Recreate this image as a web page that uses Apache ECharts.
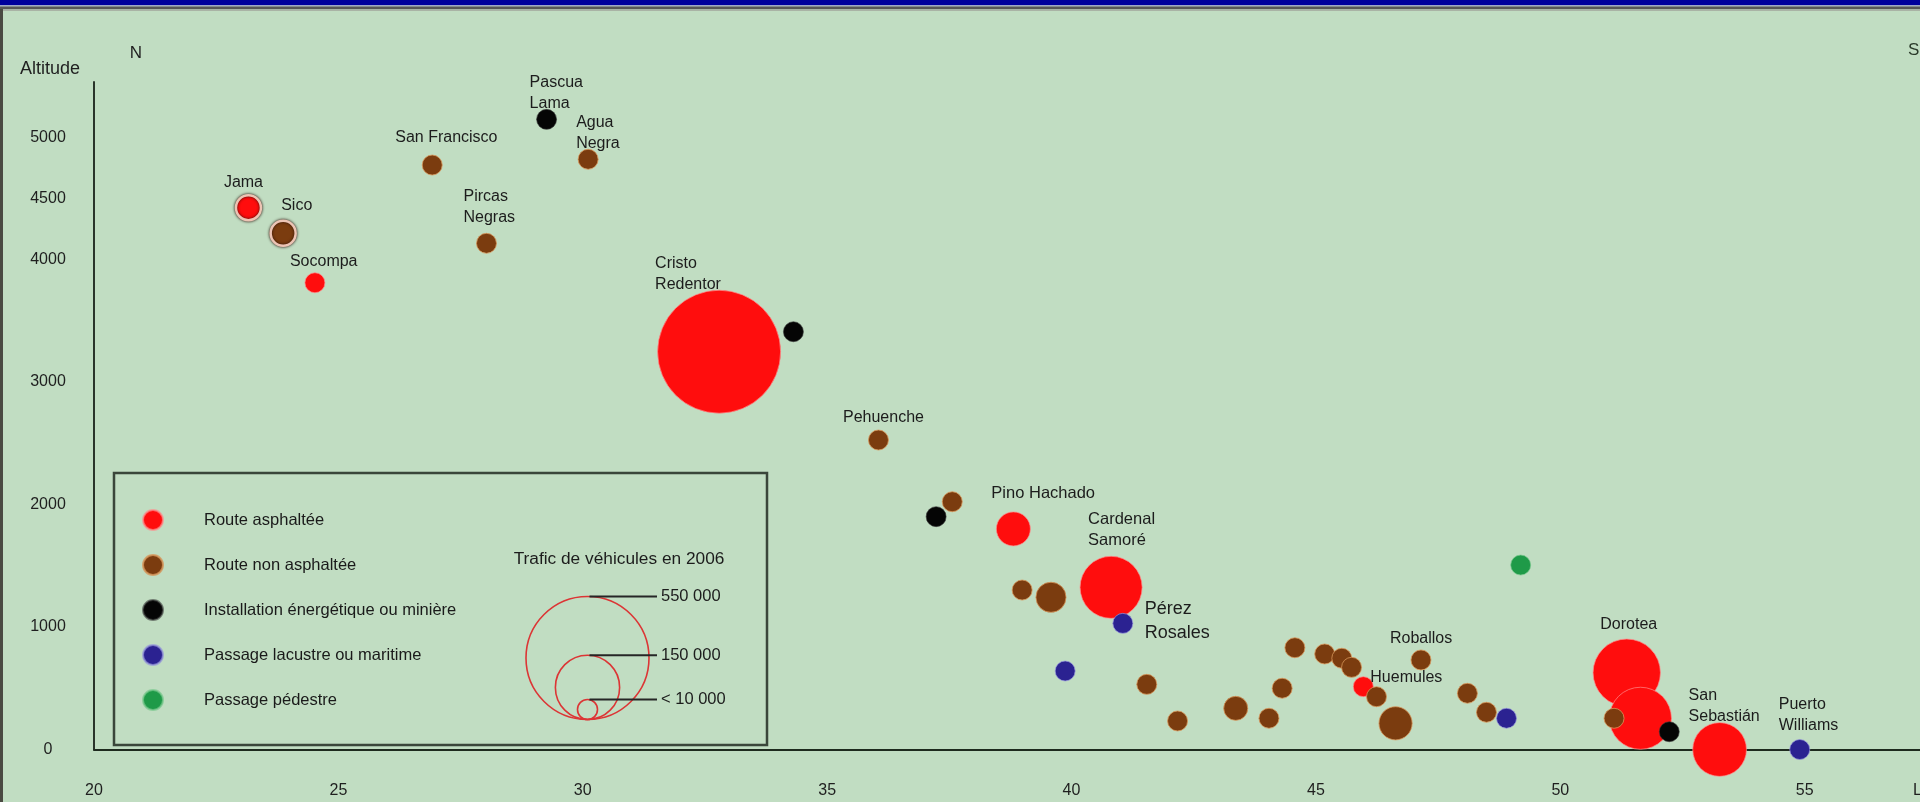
<!DOCTYPE html>
<html>
<head>
<meta charset="utf-8">
<script src="https://cdn.jsdelivr.net/npm/echarts@6/dist/echarts.min.js"></script>
<style>
html,body{margin:0;padding:0;background:#c1ddc2;}
#chart{width:1920px;height:802px;}
</style>
</head>
<body>
<div id="chart"></div>
<script>
// ---------------- DATA ----------------
const categories = ['Route asphaltée', 'Route non asphaltée', 'Installation énergétique ou minière', 'Passage lacustre ou maritime', 'Passage pédestre'];
const xTickLabels = [20, 25, 30, 35, 40, 45, 50, 55];
const yTickLabels = [0, 1000, 2000, 3000, 4000, 4500, 5000];

// [latitude (°S), altitude (m), trafic 2006 (véhicules), nom]
const paved = [
  [23.16, 4424, 10000, 'Jama'],
  [24.52, 3811, 10000, 'Socompa'],
  [32.79, 3248, 550000, 'Cristo\nRedentor'],
  [38.81, 1801, 42000, 'Pino Hachado'],
  [40.81, 1324, 140000, 'Cardenal\nSamoré'],
  [45.97, 513, 10000, 'Huemules'],
  [51.36, 627, 165000, 'Dorotea'],
  [51.64, 255, 140000, ''],
  [53.26, 0, 105000, 'San\nSebastián']
];
const unpaved = [
  [23.87, 4215, 10000, 'Sico'],
  [26.92, 4772, 10000, 'San Francisco'],
  [28.03, 4133, 10000, 'Pircas\nNegras'],
  [30.11, 4819, 10000, 'Agua\nNegra'],
  [36.05, 2527, 10000, 'Pehuenche'],
  [37.56, 2023, 10000, ''],
  [38.99, 1302, 10000, ''],
  [39.58, 1243, 33000, ''],
  [41.54, 532, 10000, ''],
  [42.17, 233, 10000, ''],
  [43.36, 336, 21000, ''],
  [44.04, 255, 10000, ''],
  [44.31, 500, 10000, ''],
  [44.57, 831, 10000, ''],
  [45.18, 780, 10000, ''],
  [45.53, 745, 10000, ''],
  [45.73, 671, 10000, ''],
  [46.24, 431, 10000, ''],
  [46.63, 214, 40000, ''],
  [47.15, 731, 10000, 'Roballos'],
  [48.10, 459, 10000, ''],
  [48.49, 304, 10000, ''],
  [51.10, 255, 10000, '']
];
const energy = [
  [29.26, 5145, null, 'Pascua\nLama'],
  [34.31, 3411, null, ''],
  [37.23, 1901, null, ''],
  [52.23, 145, null, '']
];
const lake = [
  [39.87, 641, null, ''],
  [41.05, 1030, null, 'Pérez\nRosales'],
  [48.90, 255, null, ''],
  [54.90, 0, null, 'Puerto\nWilliams']
];
const foot = [
  [49.19, 1506, null, '']
];
const sizeLegendTitle = 'Trafic de véhicules en 2006';
const sizeLegendValues = [550000, 150000, 10000];
const sizeLegendLabels = ['550 000', '150 000', '< 10 000'];

// ---------------- STYLE / LAYOUT ----------------
const colors = ['#ff0d0d', '#7b3c0f', '#050505', '#2b2291', '#1f9a48'];
const halo = ['rgba(255,140,140,0.7)', 'rgba(215,150,90,0.8)', 'rgba(60,60,60,0.6)', 'rgba(150,150,220,0.7)', 'rgba(120,200,140,0.7)'];
const FONT = '"Liberation Sans", Arial, sans-serif';
const ringed = ['Jama', 'Sico'];
// label anchor relative to mark centre: a=align, dx,dy
const labelPlacement = {
  'Jama': {a: 'center', dx: -5, dy: -25},
  'Sico': {a: 'left', dx: -2, dy: -28},
  'Socompa': {a: 'left', dx: -25, dy: -21},
  'San Francisco': {a: 'left', dx: -37, dy: -27},
  'Pircas\nNegras': {a: 'left', dx: -23, dy: -36},
  'Pascua\nLama': {a: 'left', dx: -17, dy: -26},
  'Agua\nNegra': {a: 'left', dx: -12, dy: -26},
  'Cristo\nRedentor': {a: 'left', dx: -64, dy: -78},
  'Pehuenche': {a: 'center', dx: 5, dy: -22},
  'Pino Hachado': {a: 'left', dx: -22, dy: -35, fs: 16.5},
  'Cardenal\nSamoré': {a: 'left', dx: -23, dy: -57, fs: 16.5},
  'Pérez\nRosales': {a: 'left', dx: 22, dy: -2, fs: 18, lh: 24},
  'Roballos': {a: 'left', dx: -31, dy: -21},
  'Huemules': {a: 'left', dx: 7, dy: -9},
  'Dorotea': {a: 'center', dx: 2, dy: -48},
  'San\nSebastián': {a: 'left', dx: -31, dy: -43},
  'Puerto\nWilliams': {a: 'left', dx: -21, dy: -34}
};

function sizeOf(t) {
  if (t == null) return 20;
  return Math.max(20, 123 * Math.sqrt(t / 550000));
}

function buildData(arr) {
  return arr.map(d => {
    const item = {value: [d[0], d[1], d[2]], name: d[3]};
    const lp = labelPlacement[d[3]];
    if (lp) {
      item.label = {
        show: true, formatter: '{b}', position: 'inside',
        offset: [lp.dx, lp.dy], align: lp.a, verticalAlign: 'middle',
        fontSize: lp.fs || 16, lineHeight: lp.lh || 21, color: '#1c1c1c', fontFamily: FONT
      };
    }
    if (ringed.includes(d[3])) {
      item.symbolSize = 25;
      item.itemStyle = {borderColor: '#edc4b4', borderWidth: 2.5, shadowBlur: 3, shadowColor: 'rgba(40,15,8,0.95)'};
    }
    return item;
  });
}

const seriesData = [paved, unpaved, energy, lake, foot];
const series = seriesData.map((arr, i) => ({
  name: categories[i],
  type: 'scatter',
  clip: false,
  symbol: 'circle',
  symbolSize: v => sizeOf(v[2]),
  itemStyle: {color: colors[i], borderColor: halo[i], borderWidth: 1, opacity: 1},
  label: {show: false},
  emphasis: {disabled: true},
  data: buildData(arr)
}));

// size legend graphics
const slCx = 587.5, slBottom = 719.5;
const sizeLegend = [];
sizeLegendValues.forEach((v, i) => {
  const r = sizeOf(v) / 2;
  const top = slBottom - 2 * r;
  sizeLegend.push({type: 'circle', shape: {cx: slCx, cy: slBottom - r, r: r},
    style: {fill: 'none', stroke: '#dc3535', lineWidth: 1.6}, silent: true});
  sizeLegend.push({type: 'line', shape: {x1: slCx + 2, y1: top, x2: 657, y2: top},
    style: {stroke: '#262626', lineWidth: 2}, silent: true});
  sizeLegend.push({type: 'text', x: 661, y: top,
    style: {text: sizeLegendLabels[i], fill: '#1c1c1c', fontSize: 16.5, fontFamily: FONT, align: 'left', verticalAlign: 'middle'}, silent: true});
});

const chart = echarts.init(document.getElementById('chart'), null, {renderer: 'canvas'});
chart.setOption({
  animation: false,
  backgroundColor: '#c1ddc2',
  grid: {left: 94, right: 0, top: 82, bottom: 52.5, containLabel: false, outerBoundsMode: 'none'},
  xAxis: {
    type: 'value', min: 20, max: 57.36, interval: 5,
    name: 'Latitude', nameLocation: 'end', nameGap: -7,
    nameTextStyle: {fontSize: 16, color: '#1f1f1f', fontFamily: FONT, align: 'left', verticalAlign: 'top', padding: [33, 0, 0, 0]},
    axisLine: {show: true, onZero: false, lineStyle: {color: '#1e2a1e', width: 2}},
    axisTick: {show: false},
    splitLine: {show: false},
    axisLabel: {margin: 33, fontSize: 16, color: '#1f1f1f', fontFamily: FONT,
      showMaxLabel: true,
      formatter: v => xTickLabels.includes(v) ? String(v) : ''}
  },
  yAxis: {
    type: 'value', min: 0, max: 5450, interval: 500,
    name: 'Altitude', nameLocation: 'end', nameGap: 13,
    nameTextStyle: {fontSize: 18, color: '#1f1f1f', fontFamily: FONT, align: 'right', verticalAlign: 'middle', padding: [0, 14, 0, 0]},
    axisLine: {show: true, onZero: false, lineStyle: {color: '#2a342a', width: 2}},
    axisTick: {show: false},
    splitLine: {show: false},
    axisLabel: {margin: 46, align: 'center', fontSize: 16, color: '#1f1f1f', fontFamily: FONT,
      formatter: v => yTickLabels.includes(v) ? String(v) : ''}
  },
  legend: {
    orient: 'vertical', left: 137, top: 504,
    itemWidth: 20, itemHeight: 20, itemGap: 23,
    icon: 'circle',
    selectedMode: false,
    textStyle: {fontSize: 16.5, lineHeight: 20, color: '#1a1a1a', fontFamily: FONT, padding: [0, 0, 0, 36]},
    data: categories
  },
  graphic: [
    {type: 'rect', shape: {x: 0, y: 0, width: 1920, height: 5}, style: {fill: '#00009c'}, silent: true},
    {type: 'rect', shape: {x: 0, y: 5, width: 1920, height: 1.5}, style: {fill: '#9fa7c8'}, silent: true},
    {type: 'rect', shape: {x: 0, y: 6.5, width: 1920, height: 2.5}, style: {fill: '#585858'}, silent: true},
    {type: 'rect', shape: {x: 0, y: 9, width: 1920, height: 2}, style: {fill: '#a9b3a5'}, silent: true},
    {type: 'rect', shape: {x: 0, y: 9, width: 3, height: 793}, style: {fill: '#4a4a42'}, silent: true},
    {type: 'rect', shape: {x: 114, y: 473, width: 653, height: 272}, style: {fill: 'none', stroke: '#3a463a', lineWidth: 2.5}, silent: true},
    {type: 'text', x: 136, y: 53, style: {text: 'N', fill: '#1f1f1f', fontSize: 17, fontFamily: FONT, align: 'center', verticalAlign: 'middle'}, silent: true},
    {type: 'text', x: 1908, y: 50, style: {text: 'S', fill: '#2a3a2a', fontSize: 17, fontFamily: FONT, align: 'left', verticalAlign: 'middle'}, silent: true},
    {type: 'text', x: 619, y: 559, style: {text: sizeLegendTitle, fill: '#1c1c1c', fontSize: 17.3, fontFamily: FONT, align: 'center', verticalAlign: 'middle'}, silent: true}
  ].concat(sizeLegend),
  series: series
});
</script>
</body>
</html>
